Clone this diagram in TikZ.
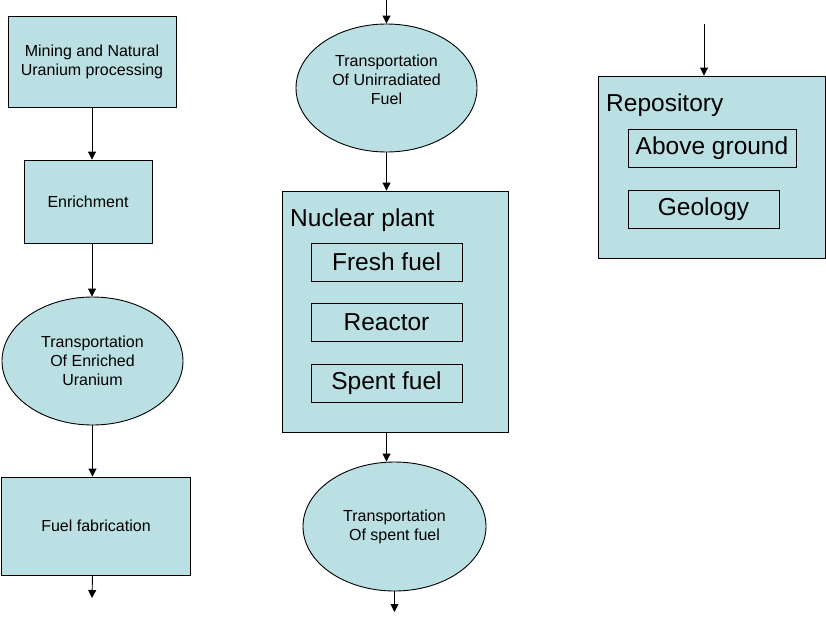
\documentclass[tikz,border=0pt]{standalone}
\usepackage{fontspec}
\setmainfont{Liberation Sans}
\usetikzlibrary{shapes.geometric,arrows.meta}
\definecolor{boxfill}{RGB}{187,224,227}
\begin{document}
\begin{tikzpicture}[x=1pt,y=-1pt,
  box/.style={draw=black,line width=0.9pt,fill=boxfill,inner sep=0pt,align=center},
  oval/.style={ellipse,draw=black,line width=0.9pt,fill=boxfill,inner sep=0pt,align=center},
  small/.style={font=\fontsize{16}{19}\selectfont},
  big/.style={font=\fontsize{24.5}{28}\selectfont},
  arr/.style={line width=0.9pt,-{Triangle[length=8pt,width=8pt]}}]
\useasboundingbox (0,0) rectangle (826,616);
% left column
\node[box,small,minimum width=168pt,minimum height=91pt] (mining) at (92,61.5) {Mining and Natural\\Uranium processing};
\node[box,small,minimum width=128pt,minimum height=83pt] (enrich) at (88,201.5) {Enrichment};
\node[oval,small,minimum width=181pt,minimum height=128pt] (tenr) at (92.5,361) {Transportation\\Of Enriched\\Uranium};
\node[box,small,minimum width=189pt,minimum height=98pt] (fab) at (96,526) {Fuel fabrication};
\coordinate (fabout) at (92,598);
\draw[arr] (mining.south) -- (mining.south |- enrich.north);
\draw[arr] (mining.south |- enrich.south) -- (mining.south |- tenr.north);
\draw[arr] (tenr.south) -- (tenr.south |- fab.north);
\draw[arr] (tenr.south |- fab.south) -- (fabout);
% middle column
\coordinate (midin) at (386.5,0);
\node[oval,minimum width=181pt,minimum height=128pt,
  label={[small,align=center,anchor=center,yshift=8.5pt]center:{Transportation\\Of Unirradiated\\Fuel}}] (tunirr) at (386.5,88) {};
\node[box,minimum width=226pt,minimum height=241pt] (plant) at (395,311.5) {};
\node[big,anchor=west,inner sep=0pt] (planttitle) at (290,220) {Nuclear plant};
\node[box,big,minimum width=151pt,minimum height=38pt] (fresh) at (386.5,262) {Fresh fuel};
\node[box,big,minimum width=151pt,minimum height=38pt] (reactor) at (386.5,322) {Reactor};
\node[box,big,minimum width=151pt,minimum height=38pt] (spent) at (386.5,383) {Spent fuel};
\node[oval,small,minimum width=183pt,minimum height=129pt] (tspent) at (394.5,526.5) {Transportation\\Of spent fuel};
\coordinate (spentout) at (394.5,612);
\draw[arr] (midin) -- (tunirr.north);
\draw[arr] (tunirr.south) -- (tunirr.south |- plant.north);
\draw[arr] (tunirr.south |- plant.south) -- (tunirr.south |- tspent.north);
\draw[arr] (tspent.south) -- (spentout);
% right column
\coordinate (repin) at (704,24);
\node[box,minimum width=227pt,minimum height=182pt] (repo) at (711.5,167) {};
\node[big,anchor=west,inner sep=0pt] (repotitle) at (606,105) {Repository};
\node[box,big,minimum width=168pt,minimum height=38pt] (above) at (712,148) {Above ground};
\node[box,big,minimum width=151pt,minimum height=38pt] (geo) at (703.5,209) {Geology};
\draw[arr] (repin) -- (repin |- repo.north);
\end{tikzpicture}
\end{document}
